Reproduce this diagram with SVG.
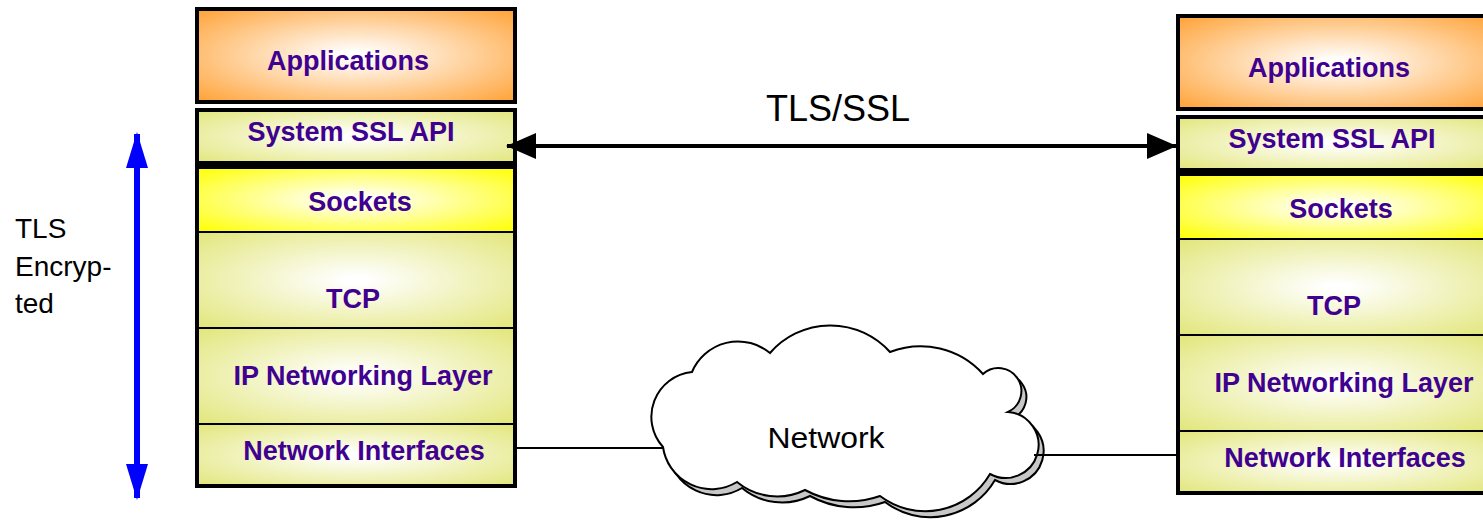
<svg xmlns="http://www.w3.org/2000/svg" width="1483" height="521" viewBox="0 0 1483 521">
<style>
.lbl{font-family:"Liberation Sans",Arial,sans-serif;font-weight:bold;font-size:27px;fill:#400090;text-anchor:middle}
.txt{font-family:"Liberation Sans",Arial,sans-serif;fill:#000}
.thick{stroke:#000;stroke-width:4}
.sep{stroke:#000;stroke-width:2}
</style>
<defs>
<radialGradient id="gApp" cx="0.5" cy="0.5" r="0.7"><stop offset="0.05" stop-color="#fff"/><stop offset="1" stop-color="#ffa236"/></radialGradient>
<radialGradient id="gYel" cx="0.5" cy="0.5" r="0.7"><stop offset="0.05" stop-color="#fff"/><stop offset="1" stop-color="#e2e67a"/></radialGradient>
<radialGradient id="gSock" cx="0.5" cy="0.5" r="0.7"><stop offset="0.05" stop-color="#fff"/><stop offset="1" stop-color="#ffff00"/></radialGradient>
<marker id="ahB" viewBox="0 0 30 26" refX="29" refY="13" markerWidth="30" markerHeight="26" markerUnits="userSpaceOnUse" orient="auto-start-reverse"><path d="M0,0 L30,13 L0,26 z" fill="#000"/></marker>
<marker id="ahBlue" viewBox="0 0 36 22" refX="34" refY="11" markerWidth="36" markerHeight="22" markerUnits="userSpaceOnUse" orient="auto-start-reverse"><path d="M0,0 L36,11 L0,22 z" fill="#0000ff"/></marker>
<path id="cloud" d="M663,447 A45,45 0 0 1 692,372 A50,50 0 0 1 770,353 A80,80 0 0 1 890,352 A84,84 0 0 1 983,374 A23,23 0 1 1 1008,412 A33,33 0 1 1 990,474 A75,75 0 0 1 880,496 A92,92 0 0 1 805,490 A63,63 0 0 1 737,482 A49,49 0 0 1 663,447 Z"/>
</defs>

<g id="tls-ssl-label"><text class="txt" x="838" y="121" font-size="36" text-anchor="middle">TLS/SSL</text></g>
<g id="tls-encrypted-label">
<text class="txt" x="15" y="238" font-size="28">TLS</text>
<text class="txt" x="15" y="276" font-size="28">Encryp-</text>
<text class="txt" x="15" y="313" font-size="28">ted</text>
</g>

<g id="network-cloud">
<use href="#cloud" transform="translate(5,6)" fill="#c8c8c8" stroke="#000" stroke-width="2"/>
<use href="#cloud" fill="#fff" stroke="#000" stroke-width="2"/>
<text class="txt" x="826" y="448" font-size="29" text-anchor="middle" textLength="117" lengthAdjust="spacingAndGlyphs">Network</text>
</g>

<g id="left-stack">
<g id="left-applications"><rect x="197" y="9" width="318" height="93" fill="url(#gApp)" class="thick"/><text class="lbl" x="348" y="70">Applications</text></g>
<g id="left-ssl-api"><rect x="197" y="110" width="318" height="53" fill="url(#gYel)" class="thick"/><text class="lbl" x="351" y="141">System SSL API</text></g>
<g id="left-sockets"><rect x="197" y="167" width="318" height="65" fill="url(#gSock)"/><text class="lbl" x="360" y="211">Sockets</text></g>
<g id="left-tcp"><rect x="197" y="232" width="318" height="96" fill="url(#gYel)"/><text class="lbl" x="353" y="308">TCP</text></g>
<g id="left-ip"><rect x="197" y="328" width="318" height="96" fill="url(#gYel)"/><text class="lbl" x="363" y="385">IP Networking Layer</text></g>
<g id="left-netif"><rect x="197" y="424" width="318" height="62" fill="url(#gYel)"/><text class="lbl" x="364" y="460">Network Interfaces</text></g>
<line x1="197" y1="232" x2="515" y2="232" class="sep"/>
<line x1="197" y1="328" x2="515" y2="328" class="sep"/>
<line x1="197" y1="424" x2="515" y2="424" class="sep"/>
<rect x="197" y="167" width="318" height="319" fill="none" class="thick"/>
</g>

<g id="right-stack" transform="translate(981,7)">
<g id="right-applications"><rect x="197" y="9" width="318" height="93" fill="url(#gApp)" class="thick"/><text class="lbl" x="348" y="70">Applications</text></g>
<g id="right-ssl-api"><rect x="197" y="110" width="318" height="53" fill="url(#gYel)" class="thick"/><text class="lbl" x="351" y="141">System SSL API</text></g>
<g id="right-sockets"><rect x="197" y="167" width="318" height="65" fill="url(#gSock)"/><text class="lbl" x="360" y="211">Sockets</text></g>
<g id="right-tcp"><rect x="197" y="232" width="318" height="96" fill="url(#gYel)"/><text class="lbl" x="353" y="308">TCP</text></g>
<g id="right-ip"><rect x="197" y="328" width="318" height="96" fill="url(#gYel)"/><text class="lbl" x="363" y="385">IP Networking Layer</text></g>
<g id="right-netif"><rect x="197" y="424" width="318" height="62" fill="url(#gYel)"/><text class="lbl" x="364" y="460">Network Interfaces</text></g>
<line x1="197" y1="232" x2="515" y2="232" class="sep"/>
<line x1="197" y1="328" x2="515" y2="328" class="sep"/>
<line x1="197" y1="424" x2="515" y2="424" class="sep"/>
<rect x="197" y="167" width="318" height="319" fill="none" class="thick"/>
</g>

<g id="connectors">
<line x1="517" y1="448" x2="664" y2="448" class="sep"/>
<line x1="1034" y1="455" x2="1178" y2="455" class="sep"/>
<line x1="507" y1="146" x2="1176" y2="146" stroke="#000" stroke-width="4" marker-start="url(#ahB)" marker-end="url(#ahB)"/>
<line x1="137" y1="134" x2="137" y2="498" stroke="#0000ff" stroke-width="6" marker-start="url(#ahBlue)" marker-end="url(#ahBlue)"/>
</g>
</svg>
